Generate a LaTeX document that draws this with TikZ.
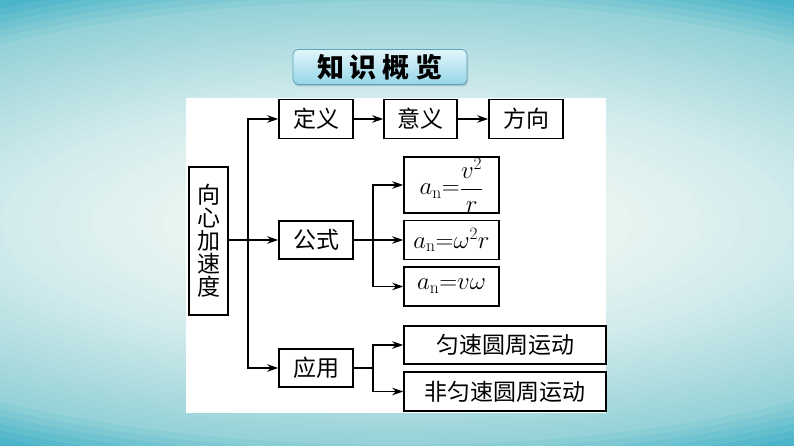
\documentclass[tikz,border=0pt]{standalone}
\usepackage{fontspec}
\newfontfamily\cjk{Noto Sans CJK SC}
\usetikzlibrary{arrows.meta,shadows}
\definecolor{bgc0}{RGB}{238,246,242}
\definecolor{bgc1}{RGB}{232,244,241}
\definecolor{bgc2}{RGB}{210,235,236}
\definecolor{bgc3}{RGB}{150,210,216}
\definecolor{bgc4}{RGB}{74,180,200}
\definecolor{ttop}{RGB}{226,245,250}
\definecolor{tbot}{RGB}{150,214,232}
\definecolor{tline}{RGB}{90,165,190}
\tikzset{
  box/.style={draw=black, line width=1.6pt, fill=white, inner sep=0pt, align=center,
    font=\cjk\fontsize{23}{27}\selectfont},
  mbox/.style={box, font=\fontsize{25}{29}\selectfont},
  arr/.style={line width=1.4pt, -{Stealth[length=11pt,width=7.5pt]}},
  ln/.style={line width=1.4pt},
}
\begin{document}
\begin{tikzpicture}[x=1pt,y=-1pt]
\useasboundingbox (0,0) rectangle (794,446);
\begin{scope}
\clip (0,0) rectangle (794,446);
\fill[bgc4] (0,0) rectangle (794,446);
\foreach \d in {88,86,...,74} {
  \pgfmathsetmacro\p{min(100,(\d-74)/12*100)}
  \fill[bgc4!\p!bgc3] (397,223) ellipse ({9*\d} and {3*\d});}
\foreach \d in {72,70,...,44} {
  \pgfmathsetmacro\p{(\d-44)/30*100}
  \fill[bgc3!\p!bgc2] (397,223) ellipse ({9*\d} and {3*\d});}
\foreach \d in {42,40,...,26} {
  \pgfmathsetmacro\p{(\d-25)/19*100}
  \fill[bgc2!\p!bgc1] (397,223) ellipse ({9*\d} and {3*\d});}
\foreach \d in {24,21,...,3} {
  \pgfmathsetmacro\p{\d/25*100}
  \fill[bgc1!\p!bgc0] (397,223) ellipse ({9*\d} and {3*\d});}
\end{scope}
% title
\node[draw=tline, line width=0.8pt, rounded corners=5pt, top color=ttop, bottom color=tbot,
  minimum width=174pt, minimum height=35pt, inner sep=0pt,
  drop shadow={opacity=0.35, shadow xshift=1pt, shadow yshift=-2pt},
  font=\cjk\bfseries\fontsize{27}{30}\selectfont] (title) at (380,67)
  {知\hspace{6pt}识\hspace{6pt}概\hspace{6pt}览};
% white panel
\fill[white] (186,98) rectangle (606,413);
% nodes
\node[box, minimum width=39pt, minimum height=148pt] (xx) at (208.5,241)
  {向\\[-4pt]心\\[-4pt]加\\[-4pt]速\\[-4pt]度};
\node[box, minimum width=74pt, minimum height=39pt] (dy) at (316,119) {定义};
\node[box, minimum width=73pt, minimum height=39pt] (yi) at (420.5,119) {意义};
\node[box, minimum width=74pt, minimum height=39pt] (fx) at (526,119) {方向};
\node[box, minimum width=74pt, minimum height=38pt] (gs) at (316,240) {公式};
\node[box, minimum width=74pt, minimum height=38pt] (yy) at (316,368) {应用};
\node[mbox, minimum width=95pt, minimum height=56pt] (f1) at (451.5,185)
  {$a_{\mathrm{n}}{=}\displaystyle\frac{v^2}{r}$};
\node[mbox, minimum width=95pt, minimum height=39pt] (f2) at (451.5,240)
  {$a_{\mathrm{n}}{=}\omega^2 r$};
\node[mbox, minimum width=95pt, minimum height=39pt] (f3) at (451.5,286.5)
  {$a_{\mathrm{n}}{=}v\omega$};
\node[box, minimum width=202pt, minimum height=38pt] (u1) at (505,345) {匀速圆周运动};
\node[box, minimum width=202pt, minimum height=39pt] (u2) at (505,391.5) {非匀速圆周运动};
% connectors
\coordinate (t) at (248,240);
\coordinate (b1) at (373,240);
\coordinate (b2) at (373,368);
\draw[arr] (xx.east |- gs) -- (gs.west);
\draw[arr] (t) |- (dy.west);
\draw[arr] (t) |- (yy.west);
\draw[arr] (dy) -- (yi);
\draw[arr] (yi) -- (fx);
\draw[arr] (gs.east) -- (f2.west);
\draw[arr] (b1) |- (f1.west);
\draw[arr] (b1) |- (f3.west);
\draw[ln] (yy.east) -- (b2);
\draw[arr] (b2) |- (u1.west);
\draw[arr] (b2) |- (u2.west);
\end{tikzpicture}
\end{document}
